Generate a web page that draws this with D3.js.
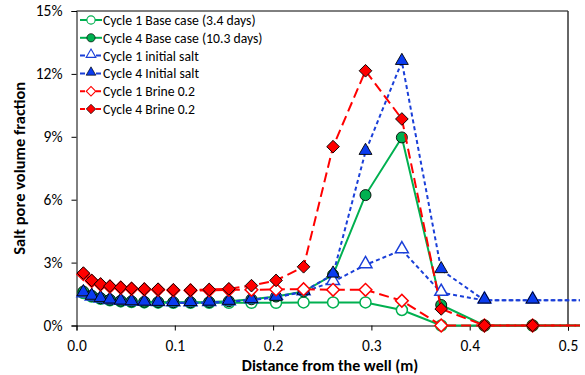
<!DOCTYPE html>
<html>
<head>
<meta charset="utf-8">
<script src="https://d3js.org/d3.v7.min.js"></script>
<style>
  body { margin: 0; background: #fff; }
  text { font-family: Carlito, "Liberation Sans", Arial, sans-serif; }
</style>
</head>
<body>
<script>
// distance from the well (m)
const distance = [0.007, 0.0155, 0.0245, 0.034, 0.045, 0.056, 0.069, 0.083, 0.0985, 0.116,
  0.135, 0.155, 0.178, 0.203, 0.231, 0.261, 0.294, 0.331, 0.371, 0.415, 0.464, 0.52];

// salt pore volume fraction, in %
const cycle1Base  = [1.55, 1.38, 1.27, 1.2, 1.15, 1.12, 1.1, 1.09, 1.08, 1.08, 1.08, 1.08, 1.08, 1.08, 1.1, 1.1, 1.1, 0.74, 0, 0, 0, 0];
const cycle4Base  = [1.62, 1.42, 1.3, 1.23, 1.18, 1.15, 1.13, 1.12, 1.11, 1.11, 1.12, 1.16, 1.25, 1.38, 1.62, 2.42, 6.22, 8.97, 0.98, 0, 0, 0];
const cycle1Salt  = [1.5, 1.35, 1.25, 1.18, 1.14, 1.11, 1.09, 1.08, 1.07, 1.07, 1.08, 1.12, 1.22, 1.38, 1.6, 2.09, 2.89, 3.6, 1.57, 1.2, 1.2, 1.2];
const cycle4Salt  = [1.55, 1.38, 1.27, 1.2, 1.15, 1.12, 1.1, 1.09, 1.08, 1.08, 1.1, 1.14, 1.22, 1.33, 1.62, 2.44, 8.29, 12.58, 2.65, 1.2, 1.2, 1.2];
const cycle1Brine = [2.45, 2.12, 1.95, 1.85, 1.8, 1.75, 1.72, 1.7, 1.68, 1.67, 1.68, 1.7, 1.7, 1.72, 1.73, 1.7, 1.7, 1.18, 0, 0, 0, 0];
const cycle4Brine = [2.5, 2.15, 1.98, 1.88, 1.82, 1.77, 1.74, 1.73, 1.7, 1.69, 1.72, 1.75, 1.9, 2.15, 2.8, 8.53, 12.15, 9.85, 0.79, 0, 0, 0];

const xTicks = [0, 0.1, 0.2, 0.3, 0.4, 0.5];
const yTicks = [0, 3, 6, 9, 12, 15];

const seriesNames = ["Cycle 1 Base case (3.4 days)", "Cycle 4 Base case (10.3 days)",
  "Cycle 1 initial salt", "Cycle 4 Initial salt", "Cycle 1 Brine 0.2", "Cycle 4 Brine 0.2"];
const seriesValues = [cycle1Base, cycle4Base, cycle1Salt, cycle4Salt, cycle1Brine, cycle4Brine];

const green = "#00b050", blue = "#1a3fd8", red = "#ff0000";
const styles = [
  {color: green, dash: null, marker: "circle", fill: "#fff", stroke: green},
  {color: green, dash: null, marker: "circle", fill: green, stroke: "#000"},
  {color: blue, dash: "4,3", marker: "triangle", fill: "#fff", stroke: blue},
  {color: blue, dash: "4,3", marker: "triangle", fill: "#0b3cf0", stroke: "#000"},
  {color: red, dash: "10,5", marker: "diamond", fill: "#fff", stroke: red},
  {color: red, dash: "10,5", marker: "diamond", fill: red, stroke: "#000"}
];

const width = 585, height = 375;
const plotLeft = 76.5, plotRight = 568, plotTop = 11, plotBottom = 325.5;

const svg = d3.select("body").append("svg")
  .attr("width", width).attr("height", height);

const x = d3.scaleLinear().domain([0, 0.5]).range([plotLeft, plotRight]);
const y = d3.scaleLinear().domain([0, 15]).range([plotBottom, plotTop]);

svg.append("clipPath").attr("id", "lineclip")
  .append("rect").attr("x", plotLeft).attr("y", 0).attr("width", plotRight - plotLeft + 12).attr("height", height);

// frame
svg.append("line").attr("x1", plotLeft).attr("x2", plotRight).attr("y1", plotTop).attr("y2", plotTop)
  .attr("stroke", "#000").attr("stroke-width", 1);
svg.append("line").attr("x1", plotRight).attr("x2", plotRight).attr("y1", plotTop).attr("y2", plotBottom)
  .attr("stroke", "#333").attr("stroke-width", 1.5);

// axes
svg.append("g").attr("transform", `translate(0,${plotBottom})`)
  .call(d3.axisBottom(x).tickValues(xTicks).tickFormat(d3.format(".1f")).tickSize(5).tickPadding(9))
  .call(g => g.selectAll("text").attr("font-size", 15.5).attr("fill", "#000"))
  .call(g => g.select(".domain").attr("stroke", "#000"));

svg.append("g").attr("transform", `translate(${plotLeft},0)`)
  .call(d3.axisLeft(y).tickValues(yTicks).tickFormat(d => d + "%").tickSize(5).tickPadding(9))
  .call(g => g.selectAll("text").attr("font-size", 15.5).attr("fill", "#000"))
  .call(g => g.select(".domain").attr("stroke", "#000"));

svg.append("text")
  .attr("x", 330).attr("y", 370.5)
  .attr("text-anchor", "middle").attr("font-size", 16).attr("font-weight", "bold")
  .text("Distance from the well (m)");

svg.append("text")
  .attr("transform", `translate(25,${(plotTop + plotBottom) / 2}) rotate(-90)`)
  .attr("text-anchor", "middle").attr("font-size", 16.5).attr("font-weight", "bold")
  .text("Salt pore volume fraction");

function markerPath(kind) {
  if (kind === "circle") return d3.symbol(d3.symbolCircle, 95)();
  if (kind === "triangle") return d3.symbol(d3.symbolTriangle, 72)();
  return d3.symbol(d3.symbolSquare, 80)();
}
function markerTransform(kind, px, py) {
  if (kind === "diamond") return `translate(${px},${py}) rotate(45)`;
  if (kind === "triangle") return `translate(${px},${py - 1})`;
  return `translate(${px},${py})`;
}

const line = d3.line().x(d => x(d[0])).y(d => y(d[1]));

seriesValues.forEach((vals, i) => {
  const st = styles[i];
  const pts = distance.map((d, j) => [d, vals[j]]);
  const g = svg.append("g");
  g.append("path")
    .attr("d", line(pts))
    .attr("clip-path", "url(#lineclip)")
    .attr("fill", "none").attr("stroke", st.color)
    .attr("stroke-width", 2)
    .attr("stroke-dasharray", st.dash);
  g.selectAll("path.mk")
    .data(pts.filter(p => p[0] <= 0.5))
    .enter().append("path")
    .attr("class", "mk")
    .attr("d", markerPath(st.marker))
    .attr("transform", p => markerTransform(st.marker, x(p[0]), y(p[1])))
    .attr("fill", st.fill).attr("stroke", st.stroke)
    .attr("stroke-width", st.fill === "#fff" ? 1.5 : 0.9);
});

// legend
const legend = svg.append("g").attr("transform", "translate(80,20)");
seriesNames.forEach((name, i) => {
  const st = styles[i];
  const row = legend.append("g").attr("transform", `translate(0,${i * 17.8})`);
  row.append("line").attr("x1", 0).attr("x2", 22).attr("y1", 0).attr("y2", 0)
    .attr("stroke", st.color).attr("stroke-width", 2).attr("stroke-dasharray", st.dash ? "5,3" : null);
  row.append("path")
    .attr("d", markerPath(st.marker))
    .attr("transform", markerTransform(st.marker, 11, 0) + " scale(0.75)")
    .attr("fill", st.fill).attr("stroke", st.stroke)
    .attr("stroke-width", st.fill === "#fff" ? 1.5 : 0.9);
  row.append("text").attr("x", 23).attr("y", 5)
    .attr("font-size", 13.7).text(name);
});
</script>
</body>
</html>
